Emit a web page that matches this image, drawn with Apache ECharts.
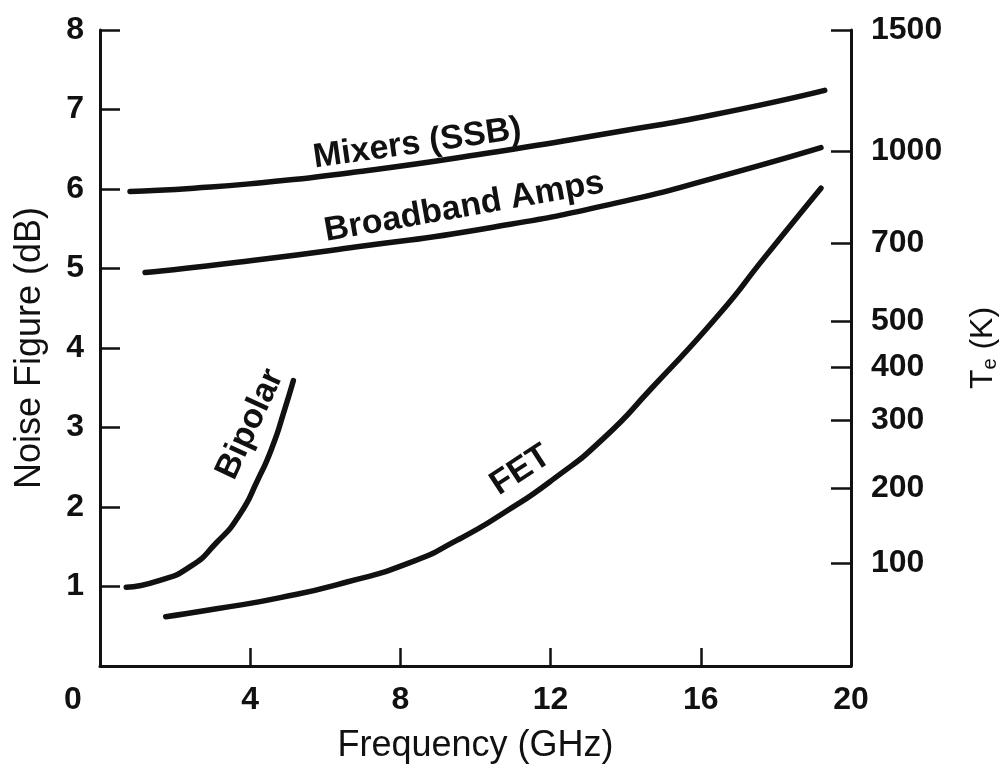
<!DOCTYPE html>
<html lang="en">

<head>
    <meta charset="UTF-8">
    <title>Noise Figure vs Frequency</title>
    <script src="https://cdn.jsdelivr.net/npm/echarts@6/dist/echarts.min.js"></script>
    <style>
        body,
        html {
            background-color: #fff;
            width: 100%;
            height: 100%;
            margin: 0;
        }
    </style>
</head>

<body>
    <div id="chart" style="width: 1008px; height: 779px;"></div>
    <script>
        // curves: frequency (GHz) and noise figure (dB)
        var mixersFreq = [0.8, 2.5, 4.3, 6.75, 10.3, 13.9, 16.3, 19.3];
        var mixersNf = [5.97, 6.01, 6.08, 6.21, 6.45, 6.73, 6.93, 7.24];
        var broadbandFreq = [1.2, 3.5, 6.8, 10.35, 14.0, 16.3, 19.2];
        var broadbandNf = [4.95, 5.07, 5.27, 5.51, 5.85, 6.13, 6.52];
        var bipolarFreq = [0.7, 1.55, 2.4, 3.1, 3.7, 4.2, 4.6, 4.9, 5.15];
        var bipolarNf = [0.99, 1.07, 1.25, 1.55, 1.89, 2.34, 2.77, 3.2, 3.59];
        var fetFreq = [1.75, 3.1, 4.8, 6.6, 8.2, 9.5, 10.8, 12.1, 13.4, 14.7, 16.5, 17.7, 19.2];
        var fetNf = [0.62, 0.72, 0.86, 1.06, 1.29, 1.58, 1.94, 2.36, 2.86, 3.5, 4.43, 5.14, 6.01];

        // right axis: equivalent noise temperature, ticks placed on the dB scale
        var tempLabels = ['100', '200', '300', '400', '500', '700', '1000', '1500'];
        var tempTickNf = [1.29, 2.24, 3.09, 3.76, 4.34, 5.32, 6.48, 8];

        var font = "'Liberation Sans', Arial, sans-serif";
        var ink = '#111';

        function pairs(xs, ys) {
            return xs.map((x, i) => [x, ys[i]]);
        }

        function curve(name, xs, ys) {
            return {
                name: name,
                type: 'line',
                smooth: 0.6,
                showSymbol: false,
                silent: true,
                lineStyle: { color: ink, width: 5.5, cap: 'round' },
                data: pairs(xs, ys)
            };
        }

        // text set along the curves
        function note(text, x, y, angle) {
            return {
                type: 'scatter',
                silent: true,
                symbolSize: 2,
                itemStyle: { color: 'rgba(0,0,0,0)' },
                label: {
                    show: true,
                    position: 'inside',
                    formatter: text,
                    rotate: angle,
                    fontFamily: font,
                    fontSize: 34,
                    fontWeight: 'bold',
                    color: ink,
                    opacity: 1,
                    textBorderWidth: 0
                },
                labelLayout: { hideOverlap: false },
                data: [[x, y]]
            };
        }

        var option = {
            animation: false,
            grid: { left: 100, right: 153, top: 30, bottom: 113 },
            xAxis: {
                type: 'value',
                min: 0,
                max: 20,
                interval: 4,
                splitLine: { show: false },
                axisLine: { lineStyle: { color: ink, width: 3 } },
                axisTick: { inside: true, length: 18, lineStyle: { color: ink, width: 2.5 } },
                axisLabel: {
                    margin: 18,
                    fontFamily: font,
                    fontSize: 32,
                    fontWeight: 'bold',
                    color: ink,
                    formatter: v => v === 0 ? '{o|0}' : String(v),
                    rich: {
                        o: { padding: [0, 54, 0, 0], fontFamily: font, fontSize: 32, fontWeight: 'bold', color: ink }
                    }
                },
                name: 'Frequency (GHz)',
                nameLocation: 'middle',
                nameGap: 62,
                nameTextStyle: { fontFamily: font, fontSize: 36, color: ink }
            },
            yAxis: [
                {
                    type: 'value',
                    min: 0,
                    max: 8,
                    interval: 1,
                    splitLine: { show: false },
                    axisLine: { lineStyle: { color: ink, width: 3 } },
                    axisTick: { inside: true, length: 20, lineStyle: { color: ink, width: 2.5 } },
                    axisLabel: {
                        margin: 16,
                        showMinLabel: false,
                        fontFamily: font,
                        fontSize: 32,
                        fontWeight: 'bold',
                        color: ink
                    },
                    name: 'Noise Figure (dB)',
                    nameLocation: 'middle',
                    nameGap: 52,
                    nameTextStyle: { fontFamily: font, fontSize: 36, color: ink }
                },
                {
                    type: 'value',
                    position: 'right',
                    min: 0,
                    max: 8,
                    splitLine: { show: false },
                    axisLine: { show: true, lineStyle: { color: ink, width: 3 } },
                    axisTick: {
                        show: true,
                        inside: true,
                        length: 20,
                        customValues: tempTickNf,
                        lineStyle: { color: ink, width: 2.5 }
                    },
                    axisLabel: {
                        margin: 20,
                        customValues: tempTickNf,
                        formatter: v => tempLabels[tempTickNf.indexOf(v)],
                        fontFamily: font,
                        fontSize: 32,
                        fontWeight: 'bold',
                        color: ink
                    },
                    name: '{t|T}{e|e}{t| (K)}',
                    nameLocation: 'middle',
                    nameGap: 115,
                    nameRotate: 90,
                    nameTextStyle: {
                        rich: {
                            t: { fontFamily: font, fontSize: 32, color: ink },
                            e: { fontFamily: font, fontSize: 20, color: ink, padding: [14, 0, 0, 0] }
                        }
                    }
                }
            ],
            series: [
                curve('Mixers (SSB)', mixersFreq, mixersNf),
                curve('Broadband Amps', broadbandFreq, broadbandNf),
                curve('Bipolar', bipolarFreq, bipolarNf),
                curve('FET', fetFreq, fetNf),
                note('Mixers (SSB)', 8.45, 6.57, 8),
                note('Broadband Amps', 9.7, 5.77, 10),
                note('Bipolar', 4.0, 3.04, 65),
                note('FET', 11.2, 2.46, 33)
            ]
        };

        var myChart = echarts.init(document.getElementById('chart'));
        myChart.setOption(option);
    </script>
</body>

</html>
